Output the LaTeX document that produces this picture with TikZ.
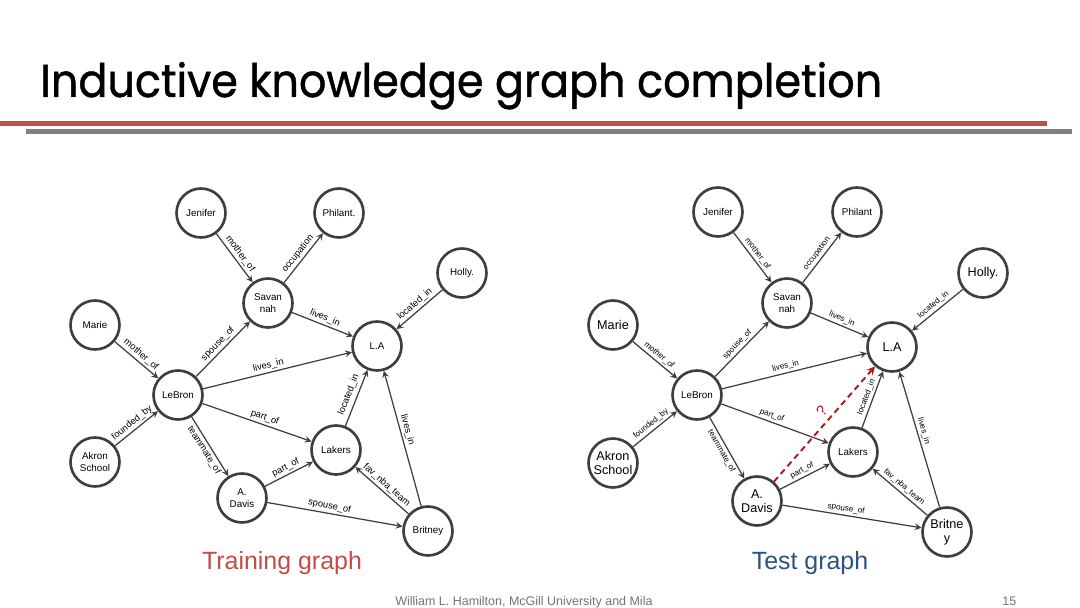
\documentclass[tikz,border=0pt]{standalone}
\usepackage{fontspec}
\setmainfont{Liberation Sans}
\newfontfamily\titlefont{Poppins}[FakeBold=1.0]
\usepackage{graphicx}
\usetikzlibrary{arrows.meta}

\definecolor{barred}{RGB}{192,80,77}
\definecolor{bargray}{RGB}{128,128,128}
\definecolor{trainred}{RGB}{196,76,72}
\definecolor{testblue}{RGB}{45,82,128}
\definecolor{guessred}{RGB}{172,26,26}
\definecolor{edgegray}{RGB}{62,62,62}

\begin{document}
\begin{tikzpicture}[
  x=0.02cm, y=-0.02cm,
  ent/.style={circle, draw=edgegray, line width=1.5pt, minimum size=0.98cm,
    inner sep=0pt, align=center, font=\fontsize{5.6}{6.6}\selectfont},
  entbig/.style={ent, font=\fontsize{7.2}{8.2}\selectfont},
  rel/.style={->, >=stealth, draw=edgegray, line width=0.7pt},
  lab/.style={sloped, above, inner sep=1.2pt, font=\fontsize{5.3}{6}\selectfont},
  labs/.style={lab, font=\fontsize{4.6}{5.2}\selectfont},
  caption/.style={anchor=base, font=\fontsize{14.2}{16}\selectfont}
]
\useasboundingbox (0,0) rectangle (1080,608);
\fill[white] (0,0) rectangle (1080,608);

% title and bars
\node[anchor=base west, inner sep=0pt] (title) at (40,97)
  {\resizebox{16.84cm}{0.70cm}{\titlefont Inductive knowledge graph completion}};
\draw[barred, line width=2.8pt] (0,123.5) -- (1047,123.5);
\draw[bargray, line width=2.8pt] (26,131.5) -- (1072,131.5);

% training graph
\node[ent] (jen)  at (201,213) {Jenifer};
\node[ent] (phil) at (339,213) {Philant.};
\node[ent] (hol)  at (462,273) {Holly.};
\node[ent] (sav)  at (268,303) {Savan\\nah};
\node[ent] (mar)  at (95,325)  {Marie};
\node[ent] (la)   at (377,346) {L.A};
\node[ent] (leb)  at (178,395) {LeBron};
\node[ent] (akr)  at (95,462)  {Akron\\School};
\node[ent] (lak)  at (336,450) {Lakers};
\node[ent] (dav)  at (242,498) {A.\\Davis};
\node[ent] (bri)  at (428,531) {Britney};

\draw[rel] (jen) -- node[lab]{mother\_of} (sav);
\draw[rel] (sav) -- node[lab]{occupation} (phil);
\draw[rel] (hol) -- node[lab]{located\_in} (la);
\draw[rel] (sav) -- node[lab]{lives\_in} (la);
\draw[rel] (mar) -- node[lab]{mother\_of} (leb);
\draw[rel] (leb) -- node[lab]{spouse\_of} (sav);
\draw[rel] (leb) -- node[lab, pos=0.45]{lives\_in} (la);
\draw[rel] (leb) -- node[lab, pos=0.55]{part\_of} (lak);
\draw[rel] (akr) -- node[lab]{founded\_by} (leb);
\draw[rel] (leb) -- node[lab, below]{teammate\_of} (dav);
\draw[rel] (dav) -- node[lab]{part\_of} (lak);
\draw[rel] (lak) -- node[lab, inner sep=2pt]{located\_in} (la);
\draw[rel] (dav) -- node[lab, pos=0.45]{spouse\_of} (bri);
\draw[rel] (bri) -- node[lab]{fav\_nba\_team} (lak);
\draw[rel] (bri) -- node[lab, pos=0.55]{lives\_in} (la);

\node[caption, trainred] (train) at (282,569) {Training graph};

% test graph
\node[ent]    (jen2)  at (718,212) {Jenifer};
\node[ent]    (phil2) at (857,212) {Philant};
\node[entbig] (hol2)  at (983,273) {Holly.};
\node[ent]    (sav2)  at (787,303) {Savan\\nah};
\node[entbig] (mar2)  at (613,325) {Marie};
\node[entbig] (la2)   at (892,347) {L.A};
\node[ent]    (leb2)  at (697,395) {LeBron};
\node[entbig] (akr2)  at (613,463) {Akron\\School};
\node[ent]    (lak2)  at (853,452) {Lakers};
\node[entbig] (dav2)  at (757,501) {A.\\Davis};
\node[entbig] (bri2)  at (947,532) {Britne\\y};

\draw[rel] (jen2) -- node[labs]{mother\_of} (sav2);
\draw[rel] (sav2) -- node[labs]{occupation} (phil2);
\draw[rel] (hol2) -- node[labs]{located\_in} (la2);
\draw[rel] (sav2) -- node[labs]{lives\_in} (la2);
\draw[rel] (mar2) -- node[labs]{mother\_of} (leb2);
\draw[rel] (leb2) -- node[labs]{spouse\_of} (sav2);
\draw[rel] (leb2) -- node[labs, pos=0.45]{lives\_in} (la2);
\draw[rel] (leb2) -- node[labs, pos=0.45]{part\_of} (lak2);
\draw[rel] (akr2) -- node[labs]{founded\_by} (leb2);
\draw[rel] (leb2) -- node[labs, below]{teammate\_of} (dav2);
\draw[rel] (dav2) -- node[labs]{part\_of} (lak2);
\draw[rel] (lak2) -- node[labs]{located\_in} (la2);
\draw[rel] (dav2) -- node[labs, pos=0.45]{spouse\_of} (bri2);
\draw[rel] (bri2) -- node[labs]{fav\_nba\_team} (lak2);
\draw[rel] (bri2) -- node[labs, pos=0.55]{lives\_in} (la2);
\draw[rel, guessred, line width=1.1pt, dash pattern=on 3.4pt off 2.4pt]
  (dav2) -- node[sloped, above, pos=0.55, inner sep=2.5pt,
  font=\fontsize{8.5}{9}\selectfont]{?} (la2);

\node[caption, testblue] (test) at (810,569) {Test graph};

% footer
\node[anchor=base west, inner sep=0pt, text=black!55,
  font=\fontsize{7.1}{8}\selectfont] (foot) at (395,605)
  {William L. Hamilton, McGill University and Mila};
\node[anchor=base west, inner sep=0pt, text=black!55,
  font=\fontsize{7.1}{8}\selectfont] (page) at (1002,605) {15};
\end{tikzpicture}
\end{document}
